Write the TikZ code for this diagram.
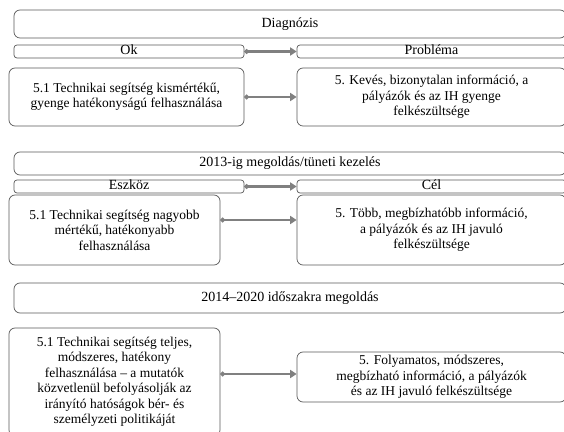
\documentclass[tikz,border=0pt]{standalone}
\usepackage{fontspec}
\setmainfont{Liberation Serif}
\usetikzlibrary{arrows.meta}
\usetikzlibrary{positioning}

\definecolor{boxline}{HTML}{595959}
\definecolor{arrowgray}{HTML}{808080}

\tikzset{
  box/.style={draw=boxline,line width=0.7pt,rounded corners=6pt,align=center,
    inner sep=2pt,font=\fontsize{13.5}{15.5}\selectfont},
  head/.style={box,font=\fontsize{14}{16}\selectfont},
  tag/.style={head,rounded corners=3pt,inner sep=0pt,text height=9pt,text depth=2.5pt},
  link/.style={arrowgray,line width=2.4pt,
    {Circle[length=4.5pt]}-{Triangle[length=6.5pt,width=8pt]}}
}

\begin{document}
\begin{tikzpicture}[x=1pt,y=1pt]
      \useasboundingbox (0,0) rectangle (564,431);
      % Diagnózis
      \node[head,minimum width=552pt,minimum height=28pt] (diag) at (290,407) {Diagnózis};
      \node[tag,minimum width=230pt,minimum height=13pt] (ok) at (129,379.5) {Ok};
      \node[tag,minimum width=269pt,minimum height=13pt] (probl) at (431.5,379.5) {Probléma};
      \node[box,minimum width=235pt,minimum height=58pt] (ok51) at (126.5,334)
        {5.1 Technikai segítség kismértékű,\\gyenge hatékonyságú felhasználása};
      \node[box,minimum width=269pt,minimum height=58pt] (prob5) at (431.5,334)
        {5. Kevés, bizonytalan információ, a\\pályázók és az IH gyenge\\felkészültsége};
      % 2013-ig
      \node[head,minimum width=552pt,minimum height=23pt] (mego) at (290,267.5) {2013-ig megoldás/tüneti kezelés};
      \node[tag,minimum width=230pt,minimum height=13pt] (eszk) at (129,244.5) {Eszköz};
      \node[tag,minimum width=269pt,minimum height=13pt] (cel) at (431.5,244.5) {Cél};
      \node[box,minimum width=211pt,minimum height=70pt] (esz51) at (114.5,201)
        {5.1 Technikai segítség nagyobb\\mértékű, hatékonyabb\\felhasználása};
      \node[box,minimum width=269pt,minimum height=70pt] (cel5) at (431.5,201)
        {5. Több, megbízhatóbb információ,\\a pályázók és az IH javuló\\felkészültsége};
      % 2014-2020
      \node[head,minimum width=552pt,minimum height=30pt] (idosz) at (290,133) {2014–2020 időszakra megoldás};
      \node[box,minimum width=211pt,minimum height=108pt] (telj51) at (114.5,49)
        {5.1 Technikai segítség teljes,\\módszeres, hatékony\\felhasználása – a mutatók\\közvetlenül befolyásolják az\\irányító hatóságok bér- és\\személyzeti politikáját};
      \node[box,minimum width=269pt,minimum height=50pt] (foly5) at (431.5,54)
        {5. Folyamatos, módszeres,\\megbízható információ, a pályázók\\és az IH javuló felkészültsége};

      \draw[link] (ok) -- (probl);
      \draw[link] (ok51.east) -- (prob5.west);
      \draw[link] (eszk) -- (cel);
      \draw[link] ([yshift=10pt]esz51.east) -- ([yshift=10pt]cel5.west);
      \draw[link] ([yshift=8pt]telj51.east) -- ([yshift=3pt]foly5.west);
\end{tikzpicture}
\end{document}
